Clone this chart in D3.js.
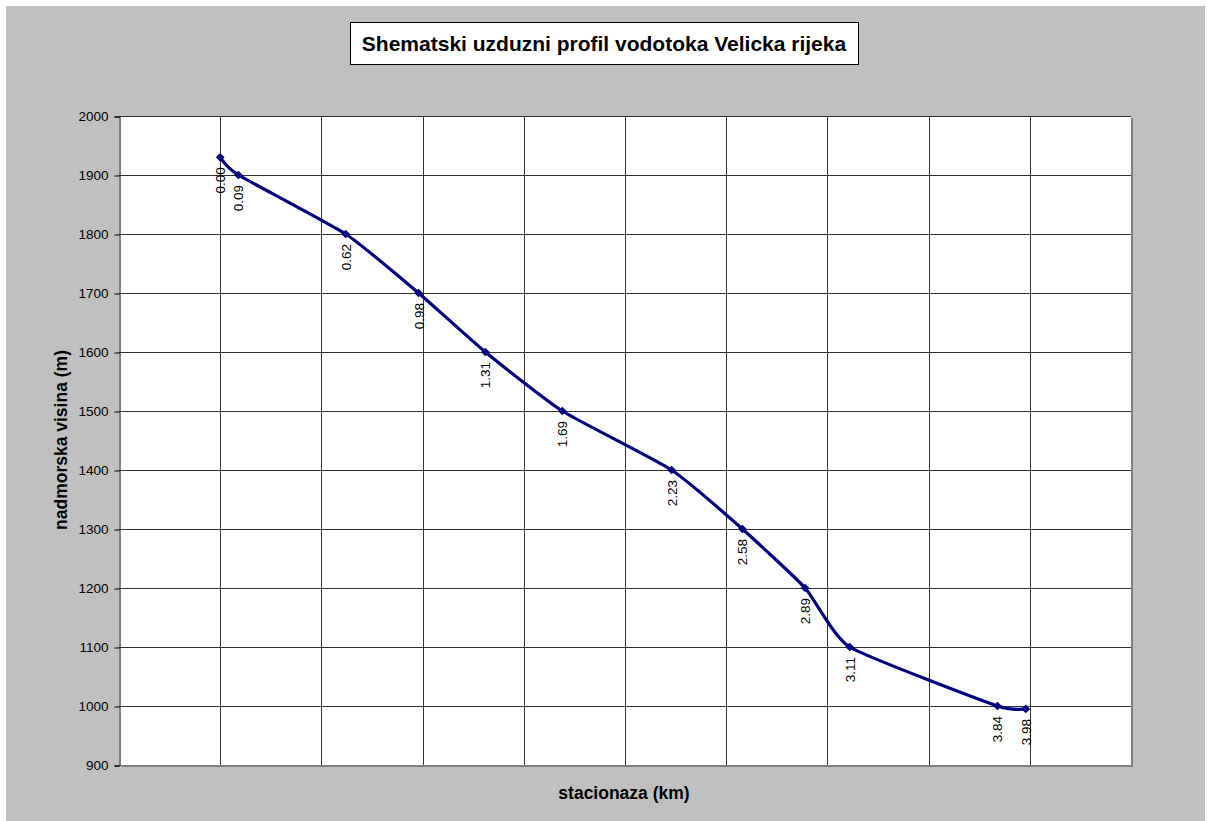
<!DOCTYPE html>
<html>
<head>
<meta charset="utf-8">
<script src="https://cdn.jsdelivr.net/npm/d3@7"></script>
<style>
body { margin: 0; background: #fff; }
text { font-family: "Liberation Sans", Arial, sans-serif; }
</style>
</head>
<body>
<svg id="chart" width="1207" height="821"></svg>
<script>
// stacionaza (km) and nadmorska visina (m)
var stations = [0.00, 0.09, 0.62, 0.98, 1.31, 1.69, 2.23, 2.58, 2.89, 3.11, 3.84, 3.98];
var heights = [1930, 1900, 1800, 1700, 1600, 1500, 1400, 1300, 1200, 1100, 1000, 995];
var pointLabels = ["0.00", "0.09", "0.62", "0.98", "1.31", "1.69", "2.23", "2.58", "2.89", "3.11", "3.84", "3.98"];
var yTicks = [900, 1000, 1100, 1200, 1300, 1400, 1500, 1600, 1700, 1800, 1900, 2000];
var xGrid = [0, 0.5, 1, 1.5, 2, 2.5, 3, 3.5, 4];

var svg = d3.select("#chart");
var plotL = 119, plotR = 1131, plotT = 116, plotB = 765;

// gray chart background
svg.append("rect")
    .attr("x", 6).attr("y", 6)
    .attr("width", 1199).attr("height", 815)
    .attr("fill", "#c0c0c0");

var x = d3.scaleLinear().domain([-0.5, 4.5]).range([plotL, plotR]);
var y = d3.scaleLinear().domain([900, 2000]).range([plotB, plotT]);

// plot area + shadow
svg.append("rect")
    .attr("x", plotL + 2).attr("y", plotT + 2)
    .attr("width", plotR - plotL).attr("height", plotB - plotT)
    .attr("fill", "#808080");
svg.append("rect")
    .attr("x", plotL).attr("y", plotT)
    .attr("width", plotR - plotL).attr("height", plotB - plotT)
    .attr("fill", "#fff");

// grid
svg.append("g").selectAll("line").data(xGrid).join("line")
    .attr("x1", function(d) { return Math.round(x(d)) + 0.5; })
    .attr("x2", function(d) { return Math.round(x(d)) + 0.5; })
    .attr("y1", plotT).attr("y2", plotB)
    .attr("stroke", "#333").attr("stroke-width", 1);
svg.append("g").selectAll("line").data(yTicks.slice(1)).join("line")
    .attr("x1", plotL).attr("x2", plotR)
    .attr("y1", function(d) { return Math.round(y(d)) + 0.5; })
    .attr("y2", function(d) { return Math.round(y(d)) + 0.5; })
    .attr("stroke", "#333").attr("stroke-width", 1);

// y axis
var yAxis = d3.axisLeft(y).tickValues(yTicks).tickSize(5).tickPadding(6).tickFormat(d3.format("d"));
var ga = svg.append("g").attr("transform", "translate(" + (plotL + 0.5) + ",0.5)").call(yAxis);
ga.select(".domain").attr("stroke", "#000");
ga.selectAll(".tick line").attr("stroke", "#000");
ga.selectAll("text").attr("font-size", 13.5).attr("fill", "#000")
    .attr("font-family", "'Liberation Sans', Arial, sans-serif");

// line
var pts = stations.map(function(s, i) { return [s, heights[i]]; });
var line = d3.line()
    .x(function(d) { return x(d[0]); })
    .y(function(d) { return y(d[1]); })
    .curve(d3.curveCardinal.tension(0.5));
svg.append("path").datum(pts)
    .attr("d", line)
    .attr("fill", "none")
    .attr("stroke", "#000080")
    .attr("stroke-width", 3.2)
    .attr("stroke-linejoin", "round");

// markers (diamonds)
svg.append("g").selectAll("path").data(pts).join("path")
    .attr("d", d3.symbol().type(d3.symbolSquare).size(38))
    .attr("transform", function(d) { return "translate(" + x(d[0]) + "," + y(d[1]) + ") rotate(45)"; })
    .attr("fill", "#000080");

// point labels
svg.append("g").selectAll("text").data(pts).join("text")
    .attr("transform", function(d) {
        return "translate(" + (x(d[0]) + 5) + "," + (y(d[1]) + 10) + ") rotate(-90)";
    })
    .attr("text-anchor", "end")
    .attr("font-size", 13.5)
    .attr("fill", "#000")
    .text(function(d, i) { return pointLabels[i]; });

// title
svg.append("rect")
    .attr("x", 350.5).attr("y", 22.5)
    .attr("width", 508).attr("height", 42)
    .attr("fill", "#fff").attr("stroke", "#000").attr("stroke-width", 1);
svg.append("text")
    .attr("x", 604).attr("y", 51)
    .attr("text-anchor", "middle")
    .attr("font-size", 21).attr("font-weight", "bold")
    .text("Shematski uzduzni profil vodotoka Velicka rijeka");

// axis titles
svg.append("text")
    .attr("x", 624).attr("y", 799)
    .attr("text-anchor", "middle")
    .attr("font-size", 17.5).attr("font-weight", "bold")
    .text("stacionaza (km)");
svg.append("text")
    .attr("transform", "translate(67,440) rotate(-90)")
    .attr("text-anchor", "middle")
    .attr("font-size", 17.5).attr("font-weight", "bold")
    .text("nadmorska visina (m)");
</script>
</body>
</html>
